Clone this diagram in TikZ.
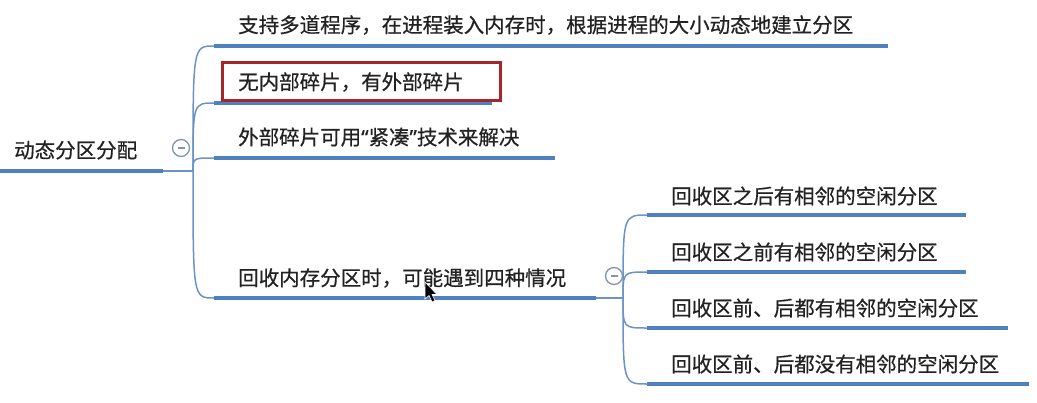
\documentclass[tikz,border=0pt]{standalone}
\usepackage{fontspec}
\newfontfamily\cjk[FakeBold=0.6]{Noto Sans CJK SC}
\newfontfamily\latq[FakeBold=0.6]{Noto Sans}
\definecolor{ublue}{HTML}{4F80C0}
\definecolor{cblue}{HTML}{6A93C8}
\definecolor{txt}{HTML}{222222}
\definecolor{boxred}{HTML}{A3262A}
\definecolor{cgray}{HTML}{7F95B0}
\tikzset{
  under/.style={draw=ublue, line width=4.5pt},
  conn/.style={draw=cblue, line width=1.5pt},
  lbl/.style={anchor=west, inner sep=0pt, text=txt, font=\cjk\fontsize{20.5}{24}\selectfont},
  redbox/.style={draw=boxred, line width=3pt, minimum width=278pt, minimum height=38pt, inner sep=0pt},
  toggle/.style={circle, draw=cgray, fill=white, line width=1.3pt, minimum size=17pt, inner sep=0pt},
  minus/.style={draw=cgray, line width=1.2pt}
}
\begin{document}
\begin{tikzpicture}[x=1pt,y=-1pt]
\useasboundingbox (0,0) rectangle (1037,402);
% root
\node[lbl] (root) at (14,150) {动态分区分配};
\coordinate (r0) at (0,171);
\coordinate (r1) at (163,171);
\coordinate (f1) at (193,171);
\draw[under] (r0) -- (r1);
\draw[conn] (r1) -- (f1);
% first-level underline ends
\coordinate (u1s) at (214,46);  \coordinate (u1e) at (888,46);
\coordinate (u2s) at (214,103); \coordinate (u2e) at (492,103);
\coordinate (u3s) at (214,158); \coordinate (u3e) at (555,158);
\coordinate (u4s) at (214,298); \coordinate (u4e) at (596,298);
\coordinate (f2) at (623,298);
% connectors
\draw[conn] (f1) .. controls (193,46) and (193,46) .. (u1s);
\draw[conn] (f1) .. controls (193,103) and (193,103) .. (u2s);
\draw[conn] (f1) .. controls (193,158) and (193,158) .. (u3s);
\draw[conn] (f1) .. controls (193,298) and (193,298) .. (u4s);
\draw[under] (u1s) -- (u1e);
\draw[under] (u2s) -- (u2e);
\draw[under] (u3s) -- (u3e);
\draw[under] (u4s) -- (u4e);
\draw[conn] (u4e) -- (f2);
% labels
\node[lbl] (n1) at (238,25) {支持多道程序，在进程装入内存时，根据进程的大小动态地建立分区};
\node[redbox] (box) at (361,81) {};
\node[lbl] (n2) at (238,82) {无内部碎片，有外部碎片};
\node[lbl] (n3) at (238,137) {外部碎片可用{\latq “}紧凑{\latq ”}技术来解决};
\node[lbl] (n4) at (238,278) {回收内存分区时，可能遇到四种情况};
% second level
\coordinate (v1s) at (647,215); \coordinate (v1e) at (966,215);
\coordinate (v2s) at (647,272); \coordinate (v2e) at (966,272);
\coordinate (v3s) at (647,328); \coordinate (v3e) at (1008,328);
\coordinate (v4s) at (647,384); \coordinate (v4e) at (1029,384);
\draw[conn] (f2) .. controls (623,215) and (623,215) .. (v1s);
\draw[conn] (f2) .. controls (623,272) and (623,272) .. (v2s);
\draw[conn] (f2) .. controls (623,328) and (623,328) .. (v3s);
\draw[conn] (f2) .. controls (623,384) and (623,384) .. (v4s);
\draw[under] (v1s) -- (v1e);
\draw[under] (v2s) -- (v2e);
\draw[under] (v3s) -- (v3e);
\draw[under] (v4s) -- (v4e);
\node[lbl] (s1) at (671,196) {回收区之后有相邻的空闲分区};
\node[lbl] (s2) at (671,252) {回收区之前有相邻的空闲分区};
\node[lbl] (s3) at (671,308) {回收区前、后都有相邻的空闲分区};
\node[lbl] (s4) at (671,364) {回收区前、后都没有相邻的空闲分区};
% toggles
\node[toggle] (t1) at (181,148) {};
\draw[minus] ([xshift=-3.5pt]t1.center) -- ([xshift=3.5pt]t1.center);
\node[toggle] (t2) at (614,276) {};
\draw[minus] ([xshift=-3.5pt]t2.center) -- ([xshift=3.5pt]t2.center);
% mouse cursor
\filldraw[fill=black, draw=white, line width=0.6pt] (425,282) -- (425,299) -- (429,295.5) -- (432,302) -- (435,300.5) -- (432,294.5) -- (437,294.5) -- cycle;
\end{tikzpicture}
\end{document}
